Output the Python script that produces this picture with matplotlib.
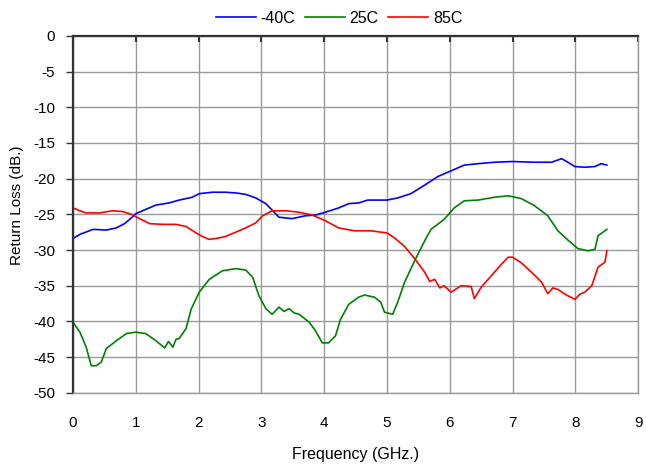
import matplotlib
matplotlib.use("Agg")
import matplotlib.pyplot as plt

plt.rcParams['font.family'] = ['Liberation Sans', 'DejaVu Sans']
plt.rcParams['axes.unicode_minus'] = False

# Frequency (GHz) / return loss (dB) for each temperature
freq_m40 = [0.0, 0.11, 0.32, 0.53, 0.69, 0.82, 0.93, 1.0, 1.16, 1.32, 1.53, 1.69, 1.9, 2.01,
            2.22, 2.43, 2.59, 2.75, 2.91, 3.07, 3.17, 3.28, 3.49, 3.7, 3.86, 4.02, 4.23, 4.39,
            4.55, 4.69, 5.0, 5.17, 5.38, 5.6, 5.81, 6.02, 6.23, 6.45, 6.71, 7.0, 7.35, 7.62,
            7.78, 7.88, 7.99, 8.15, 8.31, 8.41, 8.5]
rl_m40 = [-28.4, -27.8, -27.1, -27.2, -26.9, -26.3, -25.5, -24.9, -24.3, -23.7, -23.4, -23.0,
          -22.6, -22.1, -21.9, -21.9, -22.0, -22.2, -22.7, -23.5, -24.4, -25.4, -25.6, -25.2,
          -25.1, -24.7, -24.1, -23.5, -23.4, -23.0, -23.0, -22.7, -22.1, -20.9, -19.7, -18.9,
          -18.1, -17.9, -17.7, -17.6, -17.7, -17.7, -17.2, -17.7, -18.3, -18.4, -18.3, -17.9,
          -18.1]

freq_25 = [0.0, 0.11, 0.21, 0.29, 0.37, 0.45, 0.53, 0.69, 0.85, 1.0, 1.16, 1.32, 1.46, 1.52,
           1.59, 1.64, 1.69, 1.8, 1.88, 2.01, 2.17, 2.38, 2.59, 2.75, 2.86, 2.96, 3.07, 3.17,
           3.28, 3.36, 3.44, 3.52, 3.6, 3.76, 3.86, 3.97, 4.07, 4.18, 4.26, 4.39, 4.55, 4.64,
           4.8, 4.9, 4.96, 5.09, 5.17, 5.28, 5.44, 5.6, 5.7, 5.91, 6.07, 6.23, 6.45, 6.71,
           6.93, 7.14, 7.35, 7.56, 7.72, 7.88, 8.04, 8.2, 8.31, 8.36, 8.5]
rl_25 = [-40.1, -41.5, -43.6, -46.2, -46.2, -45.7, -43.8, -42.7, -41.7, -41.5, -41.7, -42.7,
         -43.7, -42.8, -43.6, -42.5, -42.4, -41.0, -38.3, -35.9, -34.1, -32.9, -32.6, -32.8,
         -33.8, -36.4, -38.2, -39.0, -38.0, -38.6, -38.2, -38.8, -39.0, -40.1, -41.3, -43.0,
         -43.0, -42.0, -39.7, -37.6, -36.6, -36.3, -36.6, -37.3, -38.7, -39.0, -37.3, -34.5,
         -31.5, -28.7, -27.1, -25.7, -24.1, -23.1, -23.0, -22.6, -22.4, -22.8, -23.8, -25.2,
         -27.3, -28.6, -29.8, -30.1, -29.9, -28.0, -27.1]

freq_85 = [0.0, 0.11, 0.21, 0.42, 0.63, 0.79, 0.93, 1.06, 1.22, 1.43, 1.64, 1.8, 1.96, 2.06,
           2.17, 2.33, 2.43, 2.59, 2.75, 2.91, 3.02, 3.17, 3.39, 3.6, 3.81, 4.02, 4.23, 4.48,
           4.74, 5.0, 5.12, 5.28, 5.44, 5.6, 5.68, 5.76, 5.84, 5.91, 6.02, 6.18, 6.34, 6.39,
           6.5, 6.66, 6.82, 6.93, 7.0, 7.14, 7.3, 7.46, 7.56, 7.64, 7.72, 7.8, 7.88, 7.99,
           8.07, 8.15, 8.26, 8.36, 8.47, 8.5]
rl_85 = [-24.1, -24.5, -24.8, -24.8, -24.5, -24.6, -25.0, -25.6, -26.3, -26.4, -26.4, -26.7,
         -27.6, -28.1, -28.5, -28.3, -28.1, -27.5, -26.9, -26.2, -25.2, -24.5, -24.5, -24.7,
         -25.1, -25.9, -26.9, -27.3, -27.3, -27.6, -28.3, -29.5, -31.2, -33.1, -34.4, -34.1,
         -35.3, -35.0, -35.9, -35.0, -35.1, -36.8, -35.2, -33.6, -32.0, -31.0, -31.0, -31.8,
         -33.1, -34.5, -36.1, -35.3, -35.5, -36.0, -36.4, -36.9, -36.2, -35.9, -35.0, -32.4,
         -31.7, -30.1]

series = [("-40C", freq_m40, rl_m40, "#0000ff"),
          ("25C", freq_25, rl_25, "#008000"),
          ("85C", freq_85, rl_85, "#ff0000")]

x_ticks = list(range(0, 10))
y_ticks = list(range(-50, 1, 5))

fig = plt.figure(figsize=(6.46, 4.66), dpi=100)
ax = fig.add_axes([0.113, 0.157, 0.875, 0.766])

for label, f, rl, color in series:
    ax.plot(f, rl, color=color, lw=1.2, label=label)

ax.set_xlim(0, 9)
ax.set_ylim(-50, 0)
ax.set_xticks(x_ticks)
ax.set_yticks(y_ticks)
ax.grid(True, color="#999999", lw=1.0)
ax.set_axisbelow(True)

# Frame: dark left axis and dark category axis along y = 0 (top)
for side in ("right", "bottom"):
    ax.spines[side].set_color("#999999")
    ax.spines[side].set_linewidth(1.0)
for side in ("left", "top"):
    ax.spines[side].set_color("#333333")
    ax.spines[side].set_linewidth(1.6)

ax.tick_params(axis="y", direction="out", length=5, width=1, color="#333333",
               labelsize=11, pad=8)
ax.tick_params(axis="x", bottom=False, top=True, direction="in", length=4, width=1.5,
               color="#333333", labelsize=11, labelbottom=True, labeltop=False, pad=17)

ax.set_xlabel("Frequency (GHz.)", fontsize=11.5, labelpad=12)
ax.set_ylabel("Return Loss (dB.)", fontsize=11)
ax.yaxis.set_label_coords(-0.086, 0.525)

ax.legend(loc="lower center", bbox_to_anchor=(0.471, 1.0), ncol=3, frameon=False,
          fontsize=11.5, handlelength=2.5, handletextpad=0.3, columnspacing=0.6,
          borderaxespad=0.25)

fig.savefig("out.png", dpi=100)
